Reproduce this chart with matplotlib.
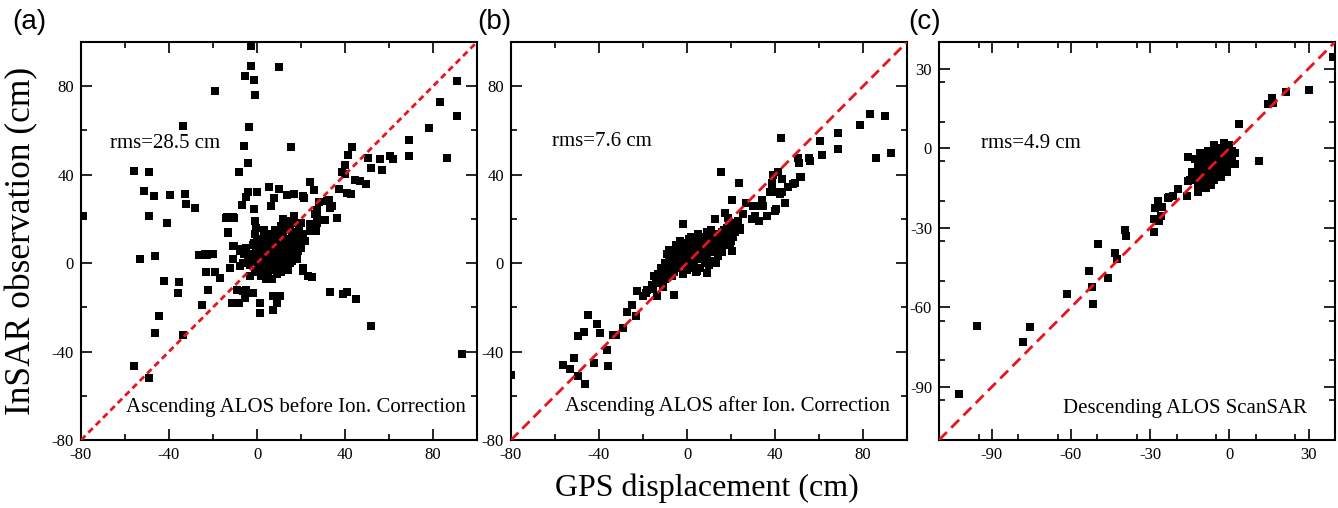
import numpy as np
import matplotlib
matplotlib.use('Agg')
import matplotlib.pyplot as plt

plt.rcParams['font.family'] = ['Liberation Serif', 'DejaVu Serif']
plt.rcParams['axes.unicode_minus'] = False
plt.rcParams['lines.scale_dashes'] = False

# (GPS, InSAR) pairs in cm
a_scatter = [
    (-2.7, 98.2), (-2.7, 89), (-5.5, 84.5), (-1.4, 82.7), (-0.9, 76), (10, 88.6), (-19, 78),
    (-33.6, 62), (-3.6, 61.4), (-5.9, 53), (-4, 45.5), (-8.2, 41.4), (-55.9, 41.8), (-49, 41.4),
    (-51.4, 32.7), (-46.8, 30.4), (-39.5, 30.9), (-32.7, 31.4), (-32.3, 26.8), (-28.2, 25),
    (-49, 21.4), (-40.9, 18.2), (-79, 21.4), (-14, 20.5), (-10.5, 20.5), (-13, 14), (-6.8, 26.4),
    (-5, 30), (-4, 32.3), (0, 32.3), (-1.4, 24.5), (5.5, 34.5), (7.7, 29.5), (6.4, 26), (10, 33.6),
    (15.5, 52.7), (91, 82.3), (83, 73), (91, 66.4), (78, 61), (69, 55.5), (69, 48.6), (86.4, 47.7),
    (60.5, 48.6), (62, 47), (56, 47), (57, 42.3), (52, 43), (50.5, 47.7), (43, 52.3), (41.4, 49),
    (40, 44.5), (38.6, 41), (40, 40.5), (44.5, 37.7), (46.8, 37.3), (49.5, 36), (37.3, 33.6),
    (41, 31.8), (42.7, 31.4), (24, 36.8), (26, 33), (13.6, 31), (17, 31.4), (21, 30.4), (21.4, 29.5),
    (28, 27.7), (32.7, 28.6), (34, 26), (27.3, 24), (27.3, 21.4), (27.3, 18.2), (31, 19.5),
    (36.4, 20.5), (16.8, 21.4), (31.8, 28), (33, 25), (26.4, 22), (24, 14.5), (24, 17.7), (27, 14.5),
    (18.6, 5.5), (18, 1.8), (-53, 1.8), (-46.4, 3.2), (-26.4, 3.6), (-22.7, 3.6), (-23, -4), (-19, -4),
    (-16.8, -6.8), (-12.3, -2.3), (-42.3, -8.2), (-35.5, -8.6), (-36, -13.6), (-22.3, -12.3),
    (-25, -19), (-11.4, -18), (-8.2, -18), (-5.5, -16), (-5, -12), (-1.8, -13.6), (1.4, -18),
    (1.4, -22.7), (7.3, -21), (9, -18), (10.5, -15), (-44.5, -24), (-46.4, -31.4), (-33.6, -32.7),
    (-55.9, -46.4), (-49, -51.8), (21, -2.3), (21, -3.6), (25, -6.4), (33, -13), (39, -14), (41, -13),
    (45, -16.4), (52, -28.6), (93, -41), (-10.5, 7.7), (-13, 13.6), (-7.7, 6.4), (-6.4, 0),
    (-23.6, 4), (-20, 4), (-11, 1.8), (-11, 7.7), (-7.7, 5.5), (-7.7, -1.4), (-3, -6), (-9, -12),
    (-6.4, -12.7), (7.3, -15), (23, -6), (-13.6, 21), (-11, 21),
]
a_cluster = [
    (-1, 19), (-0.5, 16), (-1, 13), (0, 11), (-1.5, 9), (0.5, 7), (-0.5, 5), (0, 3), (-2, 1), (1, 0),
    (2, 4), (3, 7), (4, 2), (5, 5), (6, 8), (7, 3), (8, 6), (9, 10), (10, 4), (11, 7), (12, 12),
    (13, 9), (14, 5), (15, 11), (16, 14), (17, 8), (18, 12), (19, 15), (20, 18), (21, 13),
    (2, -2), (3, 0), (4, -4), (5, -1), (6, 1), (7, -3), (8, 0), (9, 2), (10, -2), (11, 1), (12, 3),
    (13, -1), (14, 2), (15, 0), (16, 4), (17, 2), (18, 6), (19, 9), (20, 7), (22, 10),
    (1, 10), (3, 12), (4, 9), (6, 13), (7, 11), (8, 15), (10, 14), (11, 17), (13, 16), (14, 19),
    (15, 17), (17, 20), (18, 18), (12, 20), (0, -4), (2, -6), (5, -5), (7, -7), (9, -5), (11, -4),
    (4, -7), (6, -3), (-3, 4), (-4, 2), (-5, 7), (-3, -1), (-2, 8), (-6, 4),
    (1, 2), (2, 6), (3, 3), (4, 5), (5, 9), (6, 4), (7, 6), (8, 9), (9, 7), (10, 9), (11, 11),
    (12, 8), (13, 6), (14, 8), (15, 4), (16, 8), (12, -2), (14, -3), (16, 1), (8, 3), (10, 1),
    (6, -1), (4, 1), (2, 1), (3, -3), (5, 2), (7, 1), (9, -1), (11, 4), (13, 3), (15, 6), (17, 5),
    (5, 11), (9, 12), (13, 11), (16, 11), (19, 11), (1, 5), (-1, -2), (3, 15), (8, -3), (12, 15),
]

b_scatter = [
    (15.5, 41.4), (42.7, 56.4), (23.6, 36.4), (20.5, 28.6), (-1.8, 17.7), (78.6, 62.3), (83.2, 67.3),
    (90, 66.4), (86, 47.7), (92.7, 50), (68.6, 59), (68.6, 51.8), (60.5, 55), (61.4, 49), (50.5, 47.7),
    (51, 45.5), (56, 46.4), (52, 39), (49, 36.4), (46, 34.5), (41.4, 41), (39, 40), (38.6, 36.4),
    (37.7, 32), (41.4, 32), (43, 32), (44.5, 27.3), (34, 28.6), (32, 26), (27, 27.3), (25.5, 22.3),
    (29.5, 20), (32.7, 19), (36.4, 21.4), (40, 23.6), (30, 26), (34.5, 26), (31, 21.4), (40.5, 24.5),
    (43, 38), (38.6, 32.7), (42.3, 31.4), (48, 36), (51.4, 39), (55.5, 47.7), (12.7, 20), (17.3, 22.7),
    (18.6, 20.5), (24, 16), (21, 14.5), (19.5, 8.6), (20.5, 5.5), (9, -4.5), (4.5, -3.6),
    (-6, -14.5), (-13.6, -15), (-18.6, -13.6), (-22.7, -12.7), (-15.5, -11.8), (-27.3, -22),
    (-25, -19), (-23, -24), (-29, -29.5), (-33.6, -32.7), (-32.3, -32.3), (-45, -23.6), (-46.8, -31),
    (-49.5, -33), (-41, -27.7), (-39.5, -31.8), (-36.4, -39.5), (-36, -46.4), (-42.3, -45),
    (-51.4, -43), (-56.4, -46), (-53.2, -47.7), (-49.5, -51), (-46.4, -54.5), (-80, -50.5),
    (-20, -15), (-11, -10),
]
b_cluster = [
    (-14, -8), (-13, -5), (-12, -2), (-11, -6), (-10, 0), (-9, -3), (-8, 2), (-7, -1), (-6, 4),
    (-5, 1), (-4, 6), (-3, 3), (-2, 0), (-1, 5), (0, 2), (1, 7), (2, 4), (3, 1), (4, 8), (5, 5),
    (6, 2), (7, 9), (8, 6), (9, 3), (10, 11), (11, 8), (12, 5), (13, 13), (14, 10), (15, 7),
    (16, 14), (17, 11), (18, 16), (19, 13), (20, 10), (21, 17), (22, 14), (23, 19), (24, 15),
    (-9, 4), (-7, 6), (-5, 8), (-3, 7), (-1, 9), (1, 11), (3, 10), (5, 13), (7, 12), (9, 14),
    (11, 15), (-6, -4), (-4, -2), (-2, -5), (0, -3), (2, -1), (4, -4), (6, -2), (8, 0), (10, -1),
    (12, 1), (14, 3), (16, 5), (18, 8), (13, 0), (10, 5), (-12, -9), (-16, -10), (-18, -12),
    (-15, -6), (-11, -11),
    (-13, -9), (-12, -4), (-10, -7), (-9, -1), (-8, -4), (-7, 3), (-6, 0), (-5, -2), (-4, 3),
    (-3, 0), (-2, 3), (-1, 1), (0, 6), (1, 3), (2, 8), (3, 5), (4, 2), (5, 9), (6, 6), (7, 3),
    (8, 10), (9, 8), (10, 7), (11, 12), (12, 9), (13, 7), (14, 13), (15, 11), (16, 9), (17, 15),
    (18, 12), (19, 17), (20, 14), (21, 12), (22, 18), (-8, 6), (-3, 10), (2, 12), (6, 11), (0, 0),
    (3, -2), (-7, -6),
]

c_scatter = [
    (39.3, 34.4), (30, 22), (21.4, 21.2), (16, 19), (14.6, 16.7), (16.5, 17), (3.6, 9.2), (11.2, -5),
    (-15.8, -3.2), (-19.6, -15.5), (-16.2, -18), (-12, -16.6), (-23, -18.5), (-21.5, -18),
    (-27.2, -20), (-25.7, -22.2), (-28, -22.6), (-28.7, -26.8), (-26.8, -27.5), (-28.7, -31.6),
    (-39.4, -30.9), (-39, -33), (-49.6, -36), (-43.2, -39.5), (-42.4, -41.8), (-53, -46.2),
    (-45.8, -48.9), (-51.9, -52.2), (-61.4, -54.9), (-51.5, -58.6), (-95.6, -67.2), (-75.4, -67.6),
    (-78, -72.9), (-102.4, -92.7), (-11.6, -14.7), (-9, -13.6), (-15.8, -12.5), (-14, -11.7),
    (-23.4, -18.9), (-26, -25.6),
]
c_cluster = [
    (-14, -9), (-13, -12), (-12, -7), (-12, -14), (-11, -10), (-10, -5), (-10, -12), (-9, -8),
    (-9, -3), (-8, -11), (-8, -6), (-7, -4), (-7, -9), (-6, -2), (-6, -7), (-5, -10), (-5, -5),
    (-4, -3), (-4, -8), (-3, -1), (-3, -6), (-2, 0), (-2, -4), (-1, -2), (-1, -7), (0, 1), (0, -3),
    (1, -1), (1, -5), (2, -2), (-13, -4), (-11, -2), (-8, -1), (-6, 1), (-4, 0), (-2, 2), (0, -6),
    (2, -6), (-1, -9), (-3, -11), (-6, -12), (-9, -15), (-11, -13), (-15, -12), (-7, -14),
    (-12, -10), (-10, -9), (-8, -8), (-6, -5), (-4, -5), (-2, -2), (0, -1), (-5, -3), (-3, -4),
    (-7, -7), (1, -3), (-9, -11),
]

panels = [
    dict(pts=a_scatter + a_cluster, lim=(-80, 100), minor=20, ticks=[-80, -40, 0, 40, 80],
         rms='rms=28.5 cm', rms_pos=(0.073, 0.746), note='Ascending ALOS before Ion. Correction',
         note_pos=(0.114, 0.083), dash=(4.5, 3), tag='(a)', tag_x=0.009),
    dict(pts=b_scatter + b_cluster, lim=(-80, 100), minor=20, ticks=[-80, -40, 0, 40, 80],
         rms='rms=7.6 cm', rms_pos=(0.104, 0.75), note='Ascending ALOS after Ion. Correction',
         note_pos=(0.136, 0.085), dash=(7.5, 4), tag='(b)', tag_x=0.3565),
    dict(pts=c_scatter + c_cluster, lim=(-110, 40), minor=15, ticks=[-90, -60, -30, 0, 30],
         rms='rms=4.9 cm', rms_pos=(0.106, 0.746), note='Descending ALOS ScanSAR',
         note_pos=(0.313, 0.08), dash=(8, 4.5), tag='(c)', tag_x=0.679),
]
lefts = [81, 511, 939]

fig = plt.figure(figsize=(13.38, 5.08), dpi=100)
for left, p in zip(lefts, panels):
    ax = fig.add_axes([left / 1338, 68 / 508, 396 / 1338, 398 / 508])
    lo, hi = p['lim']
    pts = np.array(p['pts'])
    ax.plot([lo, hi], [lo, hi], color='#e8141b', lw=2, dashes=p['dash'], zorder=3)
    ax.plot(pts[:, 0], pts[:, 1], 's', color='black', ms=5.6, mew=0, zorder=2)
    ax.set_xlim(lo, hi)
    ax.set_ylim(lo, hi)
    ax.set_xticks(p['ticks'])
    ax.set_yticks(p['ticks'])
    ax.set_xticklabels([str(t) for t in p['ticks']])
    ax.set_yticklabels([str(t) for t in p['ticks']])
    minors = np.arange(lo, hi + 0.1, p['minor'])
    ax.set_xticks(minors, minor=True)
    ax.set_yticks(minors, minor=True)
    ax.tick_params(which='both', direction='in', top=True, right=True, width=1.2, labelsize=12)
    ax.tick_params(which='major', length=8, pad=5)
    ax.tick_params(which='minor', length=4)
    for s in ax.spines.values():
        s.set_linewidth(1.5)
    ax.text(*p['rms_pos'], p['rms'], transform=ax.transAxes, fontsize=15, va='center', ha='left')
    ax.text(*p['note_pos'], p['note'], transform=ax.transAxes, fontsize=15, va='center', ha='left')
    fig.text(p['tag_x'], 0.957, p['tag'], fontsize=20, family='Liberation Sans', va='center', ha='left')

fig.text(22 / 1338, 0.526, 'InSAR observation (cm)', rotation=90, fontsize=25.5, va='center', ha='center')
fig.text(0.528, 0.039, 'GPS displacement (cm)', fontsize=23, va='center', ha='center')

fig.savefig('out.png', dpi=100)
